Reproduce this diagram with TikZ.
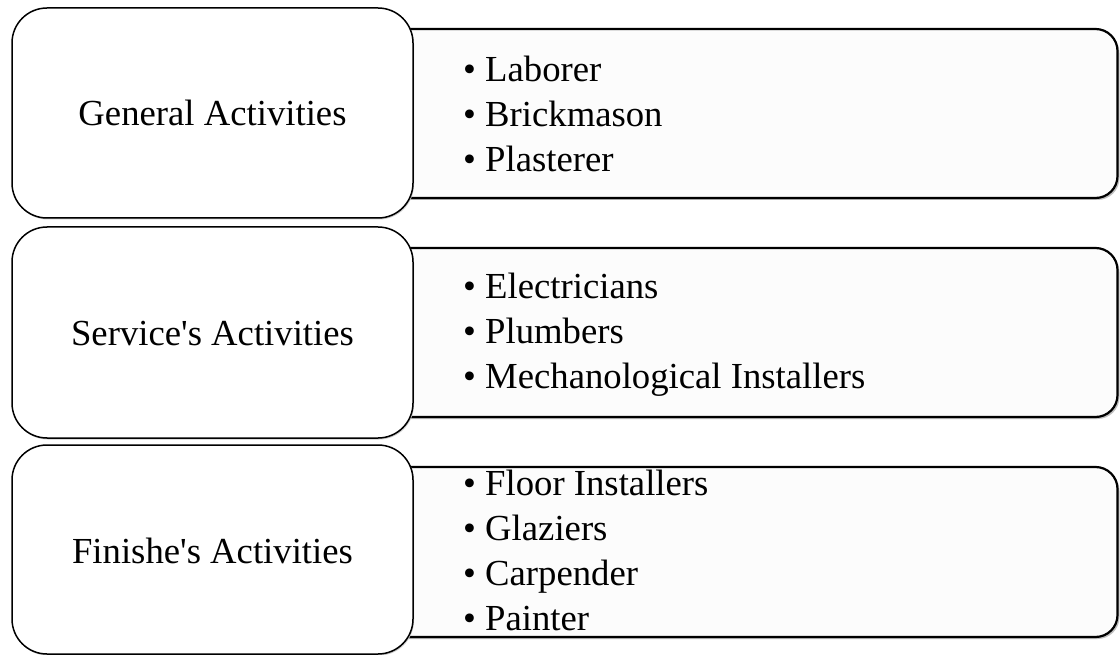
\documentclass[tikz,border=0pt]{standalone}
\usepackage{fontspec}
\setmainfont{Liberation Serif}
\begin{document}
\begin{tikzpicture}[x=1pt,y=-1pt,
  catbox/.style={draw=black,line width=1.5pt,fill=white,rounded corners=35pt},
  listbox/.style={draw=black,line width=2.2pt,fill=gray!2,rounded corners=22pt},
  shadowbox/.style={fill=black!25,rounded corners=22pt},
  catshadow/.style={fill=black!20,rounded corners=35pt},
  cattext/.style={inner sep=0pt,anchor=base,font=\fontsize{36.7}{45}\selectfont},
  itemtext/.style={inner sep=0pt,anchor=base west,font=\fontsize{36.7}{45}\selectfont}]
\useasboundingbox (0,0) rectangle (1120,655);
\fill[white] (0,0) rectangle (1120,655);
% row 1
\fill[shadowbox] (382,31) rectangle (1119.5,200);
\draw[listbox] (380,29) rectangle (1117.5,198);
\fill[catshadow] (13,9) rectangle (414,219.5);
\draw[catbox] (12,8) rectangle (413,218);
\node[cattext] (c1) at (212.5,126) {General Activities};
\node[itemtext] (i11) at (463,82) {\textbullet\ Laborer};
\node[itemtext] (i12) at (463,127) {\textbullet\ Brickmason};
\node[itemtext] (i13) at (463,172) {\textbullet\ Plasterer};
% row 2
\fill[shadowbox] (382,250) rectangle (1119.5,419);
\draw[listbox] (380,248) rectangle (1117.5,417);
\fill[catshadow] (13,228) rectangle (414,439.5);
\draw[catbox] (12,227) rectangle (413,438);
\node[cattext] (c2) at (212.5,345) {Service\textquotesingle s Activities};
\node[itemtext] (i21) at (463,299) {\textbullet\ Electricians};
\node[itemtext] (i22) at (463,343) {\textbullet\ Plumbers};
\node[itemtext] (i23) at (463,388) {\textbullet\ Mechanological Installers};
% row 3
\fill[shadowbox] (382,469) rectangle (1119.5,639);
\draw[listbox] (380,467) rectangle (1117.5,637);
\fill[catshadow] (13,446) rectangle (414,655.5);
\draw[catbox] (12,445) rectangle (413,654);
\node[cattext] (c3) at (212.5,563) {Finishe\textquotesingle s Activities};
\node[itemtext] (i31) at (463,495) {\textbullet\ Floor Installers};
\node[itemtext] (i32) at (463,540) {\textbullet\ Glaziers};
\node[itemtext] (i33) at (463,585) {\textbullet\ Carpender};
\node[itemtext] (i34) at (463,630) {\textbullet\ Painter};
\end{tikzpicture}
\end{document}
